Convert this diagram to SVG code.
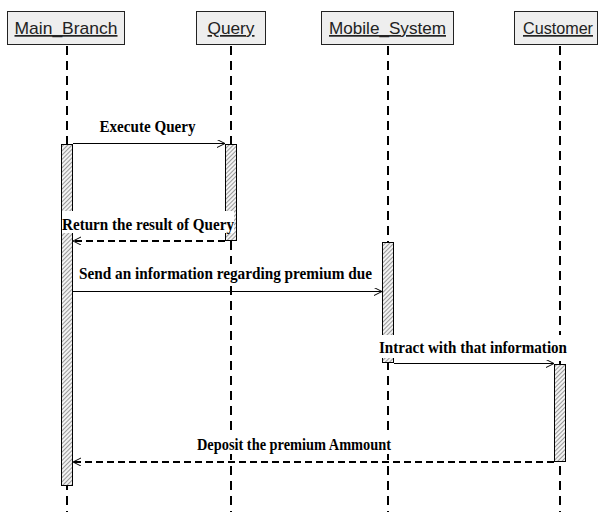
<svg xmlns="http://www.w3.org/2000/svg" width="602" height="512" viewBox="0 0 602 512">
<style>
.hdr{fill:#eeeeee;stroke:#222;stroke-width:1}
.htxt{font-family:"Liberation Sans",Arial,sans-serif;font-size:17px;fill:#222;text-decoration:underline;text-anchor:middle}
.life{stroke:#000;stroke-width:2;stroke-dasharray:9 6;fill:none}
.bar{fill:url(#hatch);stroke:#000;stroke-width:1}
.msg{stroke:#000;stroke-width:1;fill:none;marker-end:url(#open)}
.ret{stroke:#000;stroke-width:2;stroke-dasharray:7 4;fill:none;marker-end:url(#open)}
.lbg{fill:#fff;stroke:none}
.lbl{font-family:"Liberation Serif","Times New Roman",serif;font-size:16px;font-weight:bold;fill:#000;text-anchor:middle}
</style>
<defs>
<pattern id="hatch" width="3" height="3" patternUnits="userSpaceOnUse" patternTransform="rotate(45)">
<rect width="3" height="3" fill="#f2f2f2"/>
<line x1="0.5" y1="0" x2="0.5" y2="3" stroke="#9a9a9a" stroke-width="1"/>
</pattern>
<marker id="open" markerWidth="10" markerHeight="10" refX="8" refY="4" orient="auto" markerUnits="userSpaceOnUse">
<path d="M0,0 L8,4 L0,8" fill="none" stroke="#000" stroke-width="1"/>
</marker>
</defs>
<rect width="602" height="512" fill="#fff"/>
<g id="lifelines">
<line class="life" x1="67" y1="46" x2="67" y2="512"/>
<line class="life" x1="231" y1="46" x2="231" y2="512"/>
<line class="life" x1="388" y1="46" x2="388" y2="512"/>
<line class="life" x1="560" y1="46" x2="560" y2="512"/>
</g>
<g id="Main_Branch">
<rect class="hdr" x="7.5" y="11.5" width="117" height="33"/>
<text class="htxt" x="66" y="34" textLength="103" lengthAdjust="spacingAndGlyphs">Main_Branch</text>
<rect class="bar" x="61.5" y="144.5" width="11" height="341"/>
</g>
<g id="Query">
<rect class="hdr" x="196.5" y="11.5" width="69" height="33"/>
<text class="htxt" x="231" y="34" textLength="47" lengthAdjust="spacingAndGlyphs">Query</text>
<rect class="bar" x="225.5" y="144.5" width="11" height="96"/>
</g>
<g id="Mobile_System">
<rect class="hdr" x="321.5" y="11.5" width="132" height="33"/>
<text class="htxt" x="387.5" y="34" textLength="117" lengthAdjust="spacingAndGlyphs">Mobile_System</text>
<rect class="bar" x="382.5" y="242.5" width="11" height="120"/>
</g>
<g id="Customer">
<rect class="hdr" x="514.5" y="11.5" width="83" height="33"/>
<text class="htxt" x="558" y="34" textLength="70" lengthAdjust="spacingAndGlyphs">Customer</text>
<rect class="bar" x="554.5" y="364.5" width="11" height="97"/>
</g>
<g id="connectors">
<line class="msg" x1="73" y1="143.5" x2="225" y2="143.5"/>
<line class="ret" x1="225" y1="241" x2="73" y2="241"/>
<line class="msg" x1="73" y1="291.5" x2="382" y2="291.5"/>
<line class="msg" x1="394" y1="363.5" x2="554" y2="363.5"/>
<line class="ret" x1="554" y1="462" x2="73" y2="462"/>
</g>
<g id="labels">
<text class="lbl" x="147.5" y="132" textLength="96" lengthAdjust="spacingAndGlyphs">Execute Query</text>
<rect class="lbg" x="62" y="211" width="172" height="22"/>
<text class="lbl" x="148" y="230" textLength="172" lengthAdjust="spacingAndGlyphs">Return the result of Query</text>
<rect class="lbg" x="79" y="264" width="293" height="19"/>
<text class="lbl" x="225.5" y="279" textLength="293" lengthAdjust="spacingAndGlyphs">Send an information regarding premium due</text>
<rect class="lbg" x="379" y="335" width="188" height="23"/>
<text class="lbl" x="473" y="353" textLength="188" lengthAdjust="spacingAndGlyphs">Intract with that information</text>
<rect class="lbg" x="197" y="435" width="194" height="19"/>
<text class="lbl" x="294" y="450" textLength="194" lengthAdjust="spacingAndGlyphs">Deposit the premium Ammount</text>
</g>
</svg>
